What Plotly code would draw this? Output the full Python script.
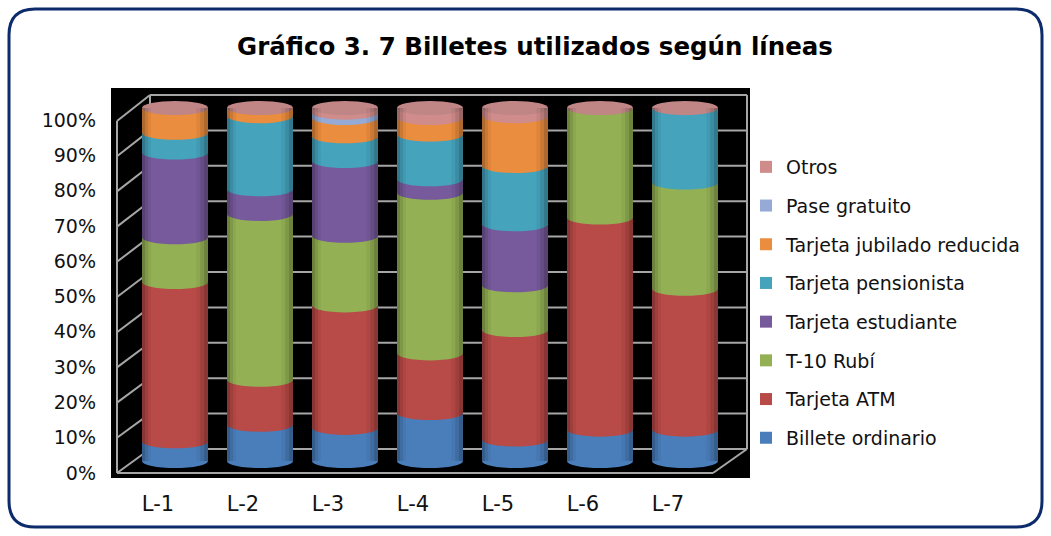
import plotly.graph_objects as go

categories = ["L-1", "L-2", "L-3", "L-4", "L-5", "L-6", "L-7"]
series_names = ["Billete ordinario", "Tarjeta ATM", "T-10 Rubí", "Tarjeta estudiante",
                "Tarjeta pensionista", "Tarjeta jubilado reducida", "Pase gratuito", "Otros"]
billete_ordinario = [5.6, 10.3, 9.4, 13.6, 6.1, 8.9, 8.9]
tarjeta_atm = [45.1, 12.7, 34.7, 16.9, 31.0, 60.1, 39.9]
t10_rubi = [12.7, 47.0, 19.7, 45.5, 12.7, 31.0, 30.1]
tarjeta_estudiante = [24.0, 7.0, 21.2, 3.8, 17.3, 0.0, 0.0]
tarjeta_pensionista = [5.6, 20.7, 7.0, 12.7, 16.5, 0.0, 21.1]
tarjeta_jubilado = [7.0, 2.3, 5.2, 4.7, 14.1, 0.0, 0.0]
pase_gratuito = [0.0, 0.0, 1.5, 0.0, 0.0, 0.0, 0.0]
otros = [0.0, 0.0, 1.3, 2.8, 2.3, 0.0, 0.0]
y_ticks = [0, 10, 20, 30, 40, 50, 60, 70, 80, 90, 100]

series_values = [billete_ordinario, tarjeta_atm, t10_rubi, tarjeta_estudiante,
                 tarjeta_pensionista, tarjeta_jubilado, pase_gratuito, otros]
colors = ["#4A7EBB", "#B84A47", "#93B154", "#775A9C", "#45A3BC", "#EB8D3E", "#95ABD6", "#D08C8A"]
cap_color = "#C08585"

W, H = 1051, 536
L, R, T, B = 111, 750, 88, 478
pw, ph = R - L, B - T
BAR_W = 0.776
CAT_PX = 85.0
x0_val = -(175 - L) / CAT_PX
x_range = [x0_val, x0_val + pw / CAT_PX]
# bar scale: 0 -> 461px, 100 -> 108px
ppu = (461 - 108) / 100.0
y_range = [-(B - 461) / ppu, 100 + (108 - T) / ppu]
ELL = 2.0

def px_x(p):
    return (p - L) / pw

def px_y(p):
    return (B - p) / ph

fig = go.Figure()
xs = list(range(len(categories)))
n_series = len(series_names)
for idx, (name, vals, col) in enumerate(zip(series_names, series_values, colors)):
    fig.add_trace(go.Bar(x=xs, y=vals, name=name, marker=dict(color=col, line=dict(width=0)),
                         width=BAR_W, legendgroup=name, legendrank=100 + (n_series - idx),
                         hoverinfo="name+y"))

shapes = []
line_col = "#A6A6A6"
# back wall gridlines (0 -> 449px, 100 -> 95px)
for v in y_ticks:
    yb = 449 - (449 - 95) * v / 100.0
    yf = 473 - (473 - 121) * v / 100.0
    shapes.append(dict(type="line", xref="paper", yref="paper", x0=px_x(150), x1=px_x(747),
                       y0=px_y(yb), y1=px_y(yb), line=dict(color=line_col, width=2), layer="below"))
    shapes.append(dict(type="line", xref="paper", yref="paper", x0=px_x(117), x1=px_x(150),
                       y0=px_y(yf), y1=px_y(yb), line=dict(color=line_col, width=2), layer="below"))
# walls / floor outline
for (ax, ay, bx, by) in [(117, 121, 117, 473), (150, 95, 150, 449), (117, 473, 713, 473),
                         (713, 473, 747, 449), (747, 449, 747, 95)]:
    shapes.append(dict(type="line", xref="paper", yref="paper", x0=px_x(ax), x1=px_x(bx),
                       y0=px_y(ay), y1=px_y(by), line=dict(color=line_col, width=2), layer="below"))

# cylinder arcs at segment boundaries
for i in xs:
    cum = 0.0
    shapes.append(dict(type="circle", xref="x", yref="y", x0=i - BAR_W / 2, x1=i + BAR_W / 2,
                       y0=-ELL, y1=ELL, fillcolor=colors[0], line=dict(width=0), layer="above"))
    for s, vals in enumerate(series_values):
        v = vals[i]
        if v <= 0:
            continue
        if cum > 0:
            shapes.append(dict(type="circle", xref="x", yref="y", x0=i - BAR_W / 2, x1=i + BAR_W / 2,
                               y0=cum - ELL, y1=cum + ELL, fillcolor=colors[s], line=dict(width=0),
                               layer="above"))
        cum += v
    shapes.append(dict(type="circle", xref="x", yref="y", x0=i - BAR_W / 2, x1=i + BAR_W / 2,
                       y0=cum - ELL, y1=cum + ELL, fillcolor=cap_color, line=dict(width=0), layer="above"))
    # side shading
    for k, op in enumerate([0.28, 0.18, 0.1]):
        d = 0.035 * (k + 1)
        shapes.append(dict(type="rect", xref="x", yref="y", x0=i - BAR_W / 2, x1=i - BAR_W / 2 + d,
                           y0=0, y1=cum, fillcolor="black", opacity=op / 2, line=dict(width=0), layer="above"))
        shapes.append(dict(type="rect", xref="x", yref="y", x0=i + BAR_W / 2 - d * 1.3, x1=i + BAR_W / 2,
                           y0=0, y1=cum, fillcolor="black", opacity=op / 2, line=dict(width=0), layer="above"))

# rounded outer border
bx0, by0, bx1, by1, r = 9, 9, 1042, 527, 26
def P(x, y):
    return f"{px_x(x):.5f},{px_y(y):.5f}"
path = (f"M {P(bx0 + r, by0)} L {P(bx1 - r, by0)} Q {P(bx1, by0)} {P(bx1, by0 + r)} "
        f"L {P(bx1, by1 - r)} Q {P(bx1, by1)} {P(bx1 - r, by1)} L {P(bx0 + r, by1)} "
        f"Q {P(bx0, by1)} {P(bx0, by1 - r)} L {P(bx0, by0 + r)} Q {P(bx0, by0)} {P(bx0 + r, by0)} Z")
shapes.append(dict(type="path", xref="paper", yref="paper", path=path,
                   line=dict(color="#0D2B6B", width=3), layer="below"))

font_family = "DejaVu Sans, Verdana, sans-serif"
fig.update_layout(
    width=W, height=H,
    margin=dict(l=L, r=W - R, t=T, b=H - B, pad=0),
    paper_bgcolor="white", plot_bgcolor="black",
    barmode="stack", bargap=0,
    font=dict(family=font_family, size=18, color="#111111"),
    title=dict(text="<b>Gráfico 3. 7 Billetes utilizados según líneas</b>", x=535 / W, xanchor="center",
               xref="container", y=1 - 46 / H, yanchor="middle", font=dict(size=24.5, color="black")),
    xaxis=dict(range=x_range, tickvals=xs, ticktext=categories, showgrid=False, zeroline=False,
               showline=False, ticks="", ticklabelshift=-17, ticklabelstandoff=11,
               tickfont=dict(size=21), fixedrange=True),
    yaxis=dict(range=y_range, tickvals=y_ticks, ticktext=[f"{v}%" for v in y_ticks], showgrid=False,
               zeroline=False, showline=False, ticks="", ticklabelshift=12, ticklabelstandoff=14,
               tickfont=dict(size=19), fixedrange=True),
    legend=dict(x=px_x(746), xanchor="left", y=px_y(148), yanchor="top", traceorder="grouped",
                tracegroupgap=11, font=dict(size=19, color="#111111"), bgcolor="rgba(0,0,0,0)",
                itemclick=False, itemdoubleclick=False),
    shapes=shapes,
    showlegend=True,
)
fig.write_html("out.html")
